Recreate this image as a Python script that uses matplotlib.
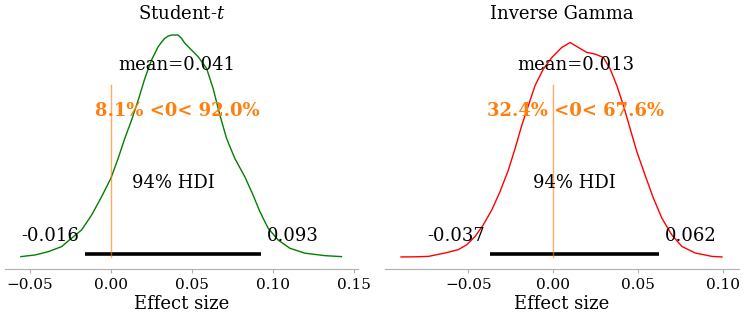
import matplotlib
matplotlib.use("Agg")
import matplotlib.pyplot as plt

# posterior densities
st_x = [-0.0556, -0.0469, -0.0387, -0.0304, -0.0243, -0.0181, -0.0119, -0.0057, 0.0,
        0.0045, 0.0086, 0.0128, 0.0169, 0.0210, 0.0251, 0.0292, 0.0313, 0.0333, 0.0354,
        0.0375, 0.0415, 0.0436, 0.0457, 0.0488, 0.0539, 0.0591, 0.0631, 0.0673, 0.0714,
        0.0765, 0.0827, 0.0878, 0.0920, 0.0971, 0.1033, 0.1105, 0.1198, 0.1321, 0.1424]
st_y = [0.02, 0.12, 0.32, 0.63, 1.14, 1.64, 2.55, 3.67, 4.79,
        6.00, 7.22, 8.33, 9.55, 10.87, 11.98, 12.79, 13.07, 13.30, 13.44,
        13.50, 13.50, 13.30, 13.00, 12.69, 12.18, 11.47, 10.26, 8.64, 7.22,
        6.00, 4.88, 3.77, 2.76, 1.75, 1.03, 0.53, 0.23, 0.08, 0.02]

ig_x = [-0.0896, -0.0814, -0.0735, -0.0637, -0.0559, -0.0509, -0.0461, -0.0412, -0.0362,
        -0.0314, -0.0265, -0.0225, -0.0186, -0.0147, -0.0108, -0.0059, -0.0009, 0.0049,
        0.0098, 0.0147, 0.0196, 0.0245, 0.0294, 0.0334, 0.0373, 0.0412, 0.0451,
        0.0491, 0.0539, 0.0588, 0.0638, 0.0696, 0.0755, 0.0834, 0.0932, 0.0991]
ig_y = [0.00, 0.01, 0.04, 0.28, 0.52, 0.87, 1.45, 2.28, 3.34,
        4.63, 6.16, 7.70, 9.34, 10.75, 12.16, 13.34, 14.16, 14.87,
        15.22, 14.87, 14.52, 14.40, 14.16, 13.34, 12.16, 10.75, 9.11,
        7.46, 5.81, 4.17, 2.75, 1.57, 0.75, 0.28, 0.04, 0.00]

titles = ["Student-$t$", "Inverse Gamma"]
means = [0.041, 0.013]
hdis = [(-0.016, 0.093), (-0.037, 0.062)]
ref_pct = [(8.1, 92.0), (32.4, 67.6)]
ref_val = 0.0
colors = ["green", "red"]
xlims = [(-0.0654, 0.1525), (-0.099, 0.109)]
peak_frac = [0.97, 0.939]  # where the peak sits in axes height

plt.rcParams["font.family"] = "DejaVu Serif"
plt.rcParams["mathtext.fontset"] = "dejavuserif"

fig = plt.figure(figsize=(7.47, 3.16), dpi=100)
boxes = [[0.0067, 0.1487, 0.4723, 0.7633], [0.5154, 0.1487, 0.4736, 0.7633]]

for i, (xs, ys) in enumerate([(st_x, st_y), (ig_x, ig_y)]):
    ax = fig.add_axes(boxes[i])
    ax.plot(xs, ys, color=colors[i], lw=1.0)

    # y limits: density 0 at 5% of axes height
    span = max(ys) / (peak_frac[i] - 0.05)
    ax.set_ylim(-0.05 * span, -0.05 * span + span)
    ax.set_xlim(*xlims[i])

    tr = ax.get_xaxis_transform()
    lo, hi = hdis[i]
    ax.plot([lo, hi], [0.062, 0.062], color="k", lw=2.6, solid_capstyle="butt", transform=tr)
    ax.annotate(f"{lo:.3f}", (lo, 0.137), xycoords=tr, xytext=(-4, 0), textcoords="offset points",
                ha="right", va="center", fontsize=13)
    ax.annotate(f"{hi:.3f}", (hi, 0.137), xycoords=tr, xytext=(4, 0), textcoords="offset points",
                ha="left", va="center", fontsize=13)
    ax.text((lo + hi) / 2, 0.356, "94% HDI", transform=tr, ha="center", va="center", fontsize=13)

    ax.text(means[i], 0.845, f"mean={means[i]:.3f}", transform=tr, ha="center", va="center", fontsize=13)

    ax.axvline(ref_val, ymin=0.05, ymax=0.762, color="C1", lw=1, alpha=0.65)
    below, above = ref_pct[i]
    ax.text(means[i], 0.655, f"{below:.1f}% <{ref_val:g}< {above:.1f}%", transform=tr,
            ha="center", va="center", fontsize=13, color="C1", weight="bold")

    ax.set_title(titles[i], fontsize=13)
    ax.set_xlabel("Effect size", fontsize=13, labelpad=2)
    ax.set_yticks([])
    for s in ["left", "top", "right"]:
        ax.spines[s].set_visible(False)
    ax.spines["bottom"].set_color("#b0b0b0")
    ax.tick_params(axis="x", labelsize=11, colors="#b0b0b0", labelcolor="black", length=3)

fig.savefig("out.png", dpi=100)
